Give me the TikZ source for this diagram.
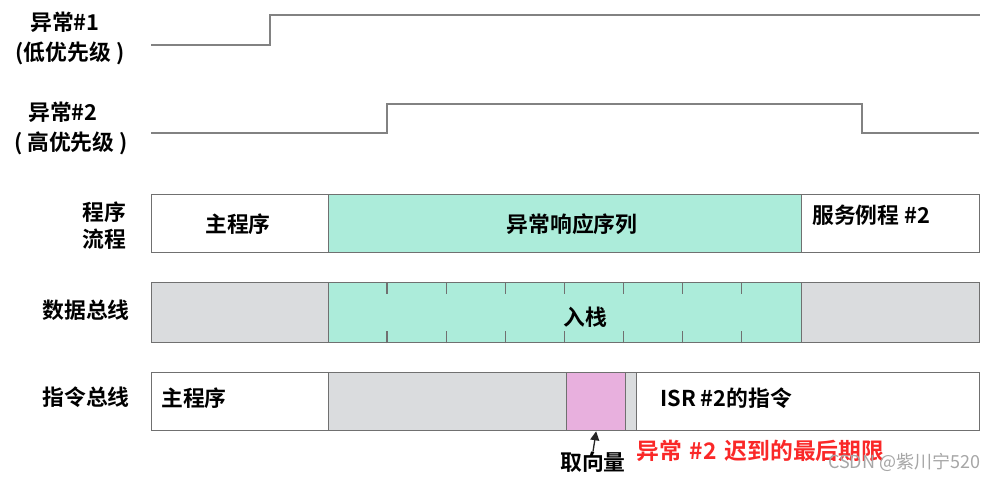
\documentclass[tikz,border=0pt]{standalone}
\usepackage{fontspec}
\setmainfont{Noto Sans CJK SC}[BoldFont={Noto Sans CJK SC Bold}]
\usetikzlibrary{arrows.meta,calc}
\definecolor{teal1}{RGB}{172,236,218}
\definecolor{gray1}{RGB}{218,220,222}
\definecolor{pink1}{RGB}{232,176,222}
\definecolor{edge1}{RGB}{112,112,112}
\definecolor{wave1}{RGB}{130,130,130}
\definecolor{red1}{RGB}{250,40,40}
\begin{document}
\begin{tikzpicture}[x=1pt,y=-1pt,
  seg/.style={draw=edge1, line width=1.3pt, inner sep=0pt, anchor=north west},
  lbl/.style={font=\fontsize{21.8}{24}\selectfont\bfseries, inner sep=0pt},
  wave/.style={draw=wave1, line width=1.6pt},
  tick/.style={draw=edge1, line width=1.3pt}]
\useasboundingbox (0,0) rectangle (994,479);
% waveforms
\draw[wave] (151,45) -- (270,45) -- (270,15) -- (980,15);
\draw[wave] (151,133) -- (387,133) -- (387,104) -- (862,104) -- (862,133) -- (979,133);
% left labels
\node[lbl] (l1a) at (65,22) {异常\#1};
\node[lbl] (l1b) at (70,53) {(低优先级 )};
\node[lbl] (l2a) at (63,112) {异常\#2};
\node[lbl] (l2b) at (71,143) {( 高优先级 )};
\node[lbl, anchor=east] (l3a) at (126,212) {程序};
\node[lbl, anchor=east] (l3b) at (126,239) {流程};
\node[lbl, anchor=east] (l4) at (130,310) {数据总线};
\node[lbl, anchor=east] (l5) at (130,397) {指令总线};
% program flow
\node[seg, fill=white, minimum width=177pt, minimum height=58pt] (pf1) at (151,194) {};
\node[seg, fill=teal1, minimum width=473pt, minimum height=58pt] (pf2) at (328,194) {};
\node[seg, fill=white, minimum width=178pt, minimum height=58pt] (pf3) at (801,194) {};
\node[lbl] (pf1t) at (238,224) {主程序};
\node[lbl] (pf2t) at (572,224) {异常响应序列};
\node[lbl, anchor=west] (pf3t) at (812,215) {服务例程 \#2};
% data bus
\node[seg, fill=gray1, minimum width=177pt, minimum height=60pt] (db1) at (151,282) {};
\node[seg, fill=teal1, minimum width=473pt, minimum height=60pt] (db2) at (328,282) {};
\node[seg, fill=gray1, minimum width=178pt, minimum height=60pt] (db3) at (801,282) {};
\foreach \i in {1,...,7} {
  \draw[tick] ($(db2.north west)+(\i*59.1,0)$) -- ++(0,12);
  \draw[tick] ($(db2.south west)+(\i*59.1,0)$) -- ++(0,-12);
}
\node[lbl] (db2t) at (585,317) {入栈};
% instruction bus
\node[seg, fill=white, minimum width=177pt, minimum height=58pt] (ib1) at (151,372) {};
\node[seg, fill=gray1, minimum width=238pt, minimum height=58pt] (ib2) at (328,372) {};
\node[seg, fill=pink1, minimum width=59pt, minimum height=58pt] (ib3) at (566,372) {};
\node[seg, fill=gray1, minimum width=11pt, minimum height=58pt] (ib4) at (625,372) {};
\node[seg, fill=white, minimum width=343pt, minimum height=58pt] (ib5) at (636,372) {};
\node[lbl, anchor=west] (ib1t) at (161,398) {主程序};
\node[lbl, anchor=west] (ib5t) at (660,398) {ISR \#2的指令};
% bottom labels
\node[lbl] (vec) at (593,462) {取向量};
\draw[-{Triangle[length=9pt,width=9pt]}, line width=1.3pt, black!85] (vec.north) -- (ib3.south);
\node[lbl, font=\fontsize{22.8}{25}\selectfont\bfseries, text=red1, anchor=west] (late) at (636,451) {异常\hspace{0.35em}\#2\hspace{0.35em}迟到的最后期限};
\node[font=\fontsize{18}{20}\selectfont, text=black!35, inner sep=0pt, anchor=west] (wm) at (828,462) {CSDN @紫川宁520};
\end{tikzpicture}
\end{document}
